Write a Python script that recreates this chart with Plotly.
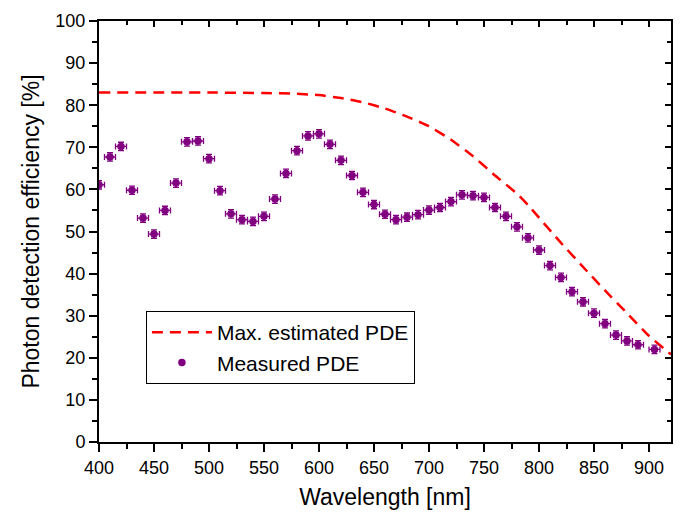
import plotly.graph_objects as go

# Measured PDE data
wl_meas = [400, 410, 420, 430, 440, 450, 460, 470, 480, 490, 500, 510, 520, 530, 540,
           550, 560, 570, 580, 590, 600, 610, 620, 630, 640, 650, 660, 670, 680, 690,
           700, 710, 720, 730, 740, 750, 760, 770, 780, 790, 800, 810, 820, 830, 840,
           850, 860, 870, 880, 890, 905]
pde_meas = [61.1, 67.7, 70.2, 59.8, 53.2, 49.4, 55.0, 61.5, 71.3, 71.5, 67.3, 59.7, 54.2, 52.8, 52.4,
            53.6, 57.7, 63.8, 69.2, 72.7, 73.2, 70.7, 66.9, 63.3, 59.3, 56.4, 54.1, 52.8, 53.4, 54.0,
            55.1, 55.7, 57.1, 58.7, 58.5, 58.1, 55.7, 53.6, 51.1, 48.5, 45.6, 41.9, 39.1, 35.7, 33.3,
            30.6, 28.1, 25.4, 24.0, 23.1, 22.0]
wl_err = [5] * len(wl_meas)
pde_err = [1.0] * len(wl_meas)

# Max. estimated PDE curve
wl_max = [400, 500, 550, 580, 600, 620, 640, 660, 680, 700, 720, 740, 760, 780,
          790, 800, 820, 840, 860, 880, 900, 920]
pde_max = [83.0, 83.0, 82.9, 82.7, 82.4, 81.7, 80.7, 79.2, 77.3, 75.0, 71.8, 67.9, 63.3, 59.0,
           56.3, 53.3, 47.3, 41.6, 36.0, 30.6, 25.2, 20.8]

FONT = "Arial, Liberation Sans, sans-serif"
PURPLE = "#800080"

fig = go.Figure()
fig.add_trace(go.Scatter(
    x=wl_max, y=pde_max, mode="lines", name="Max. estimated PDE",
    line=dict(color="#ff0000", width=2.5, dash="11px,7px", shape="spline", smoothing=0.4),
))
fig.add_trace(go.Scatter(
    x=wl_meas, y=pde_meas, mode="markers", name="Measured PDE",
    marker=dict(color=PURPLE, size=7.5),
    error_x=dict(type="data", array=wl_err, color=PURPLE, thickness=1.3, width=3),
    error_y=dict(type="data", array=pde_err, color=PURPLE, thickness=1.3, width=3),
))
# dummy trace for mirrored (inward-tick) axes
fig.add_trace(go.Scatter(x=[None], y=[None], xaxis="x2", yaxis="y2",
                         showlegend=False, hoverinfo="skip"))

axis_common = dict(showgrid=False, zeroline=False, showline=True, linecolor="black",
                   linewidth=2, tickcolor="black", tickwidth=1.5, automargin=False)

# page body has an 8px margin, so the figure is sized/positioned to compensate
fig.update_layout(
    width=686, height=504,
    margin=dict(l=91, r=23, t=13, b=70),
    paper_bgcolor="white", plot_bgcolor="white",
    font=dict(family=FONT, color="black"),
    showlegend=True,
    legend=dict(x=0.082, y=0.311, xanchor="left", yanchor="top",
                bordercolor="black", borderwidth=1, bgcolor="white",
                itemwidth=60, entrywidth=218, entrywidthmode="pixels",
                font=dict(size=21, family=FONT), tracegroupgap=0),
    xaxis=dict(range=[400, 920], tick0=400, dtick=50, ticks="outside", ticklen=8,
               minor=dict(dtick=25, ticks="outside", ticklen=5, tickcolor="black", tickwidth=1.5),
               tickfont=dict(size=18, family=FONT),
               title=dict(text="Wavelength [nm]", font=dict(size=23, family=FONT), standoff=12),
               **axis_common),
    yaxis=dict(range=[0, 100], tick0=0, dtick=10, ticks="outside", ticklen=8,
               minor=dict(dtick=5, ticks="outside", ticklen=5, tickcolor="black", tickwidth=1.5),
               tickfont=dict(size=18, family=FONT),
               title=dict(text="Photon detection efficiency [%]", font=dict(size=23, family=FONT), standoff=9),
               **axis_common),
    xaxis2=dict(range=[400, 920], overlaying="x", side="top", anchor="y2",
                tick0=400, dtick=50, ticks="inside", ticklen=6, showticklabels=False,
                minor=dict(dtick=25, ticks="inside", ticklen=4, tickcolor="black", tickwidth=1.5),
                **axis_common),
    yaxis2=dict(range=[0, 100], overlaying="y", side="right", anchor="x2",
                tick0=0, dtick=10, ticks="inside", ticklen=6, showticklabels=False,
                minor=dict(dtick=5, ticks="inside", ticklen=4, tickcolor="black", tickwidth=1.5),
                **axis_common),
)

fig.write_html("out.html")
